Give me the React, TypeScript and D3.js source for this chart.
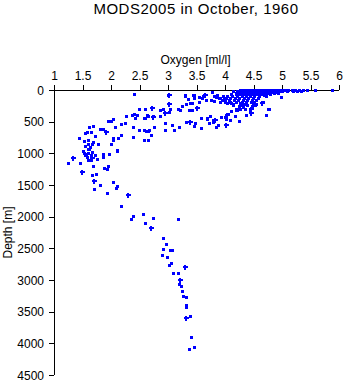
import React from "react";
import * as d3 from "d3";

const title = "MODS2005 in October, 1960";
const xLabel = "Oxygen [ml/l]";
const yLabel = "Depth [m]";
const xTicks = [1, 1.5, 2, 2.5, 3, 3.5, 4, 4.5, 5, 5.5, 6];
const yTicks = [0, 500, 1000, 1500, 2000, 2500, 3000, 3500, 4000, 4500];

// [oxygen ml/l, depth m] — square markers
const surfaceObs: [number, number][] = [
  [4.28, 5], [4.33, 5], [4.38, 5], [4.42, 5], [4.47, 5], [4.52, 5], [4.57, 5], [4.62, 5], [4.67, 5],
  [4.72, 5], [4.77, 5], [4.82, 5], [4.87, 5], [4.92, 5], [4.97, 5], [5.02, 5], [5.07, 5], [5.12, 5],
  [5.18, 8], [5.24, 8], [5.31, 12], [5.38, 10], [5.45, 8], [5.58, 5], [5.88, 5],
  [4.22, 25], [4.3, 25], [4.36, 25], [4.44, 25], [4.5, 25], [4.56, 25], [4.63, 25], [4.7, 25], [4.76, 25],
  [4.83, 25], [4.9, 25], [4.95, 25], [5.0, 25], [5.1, 22], [5.2, 22], [5.28, 20], [5.35, 20], [4.15, 16],
  [4.25, 40], [4.33, 38], [4.41, 40], [4.49, 38], [4.57, 40], [4.66, 38], [4.74, 40], [4.82, 38], [4.9, 40],
  [4.2, 50], [4.27, 50], [4.34, 50], [4.4, 50], [4.46, 50], [4.52, 50], [4.58, 50], [4.64, 50], [4.7, 50],
  [4.78, 50], [4.86, 50], [4.94, 55],
  [4.24, 62], [4.32, 64], [4.4, 62], [4.5, 64], [4.6, 62], [4.68, 64], [4.75, 62],
  [4.12, 75], [4.2, 75], [4.28, 75], [4.35, 75], [4.42, 75], [4.48, 75], [4.55, 75], [4.62, 75], [4.7, 80], [4.8, 78],
  [3.98, 100], [4.05, 100], [4.14, 100], [4.22, 100], [4.3, 100], [4.38, 100], [4.45, 100], [4.52, 100], [4.6, 105], [4.72, 100],
  [3.92, 130], [4.02, 130], [4.1, 130], [4.18, 130], [4.26, 130], [4.34, 130], [4.42, 130], [4.5, 130], [4.58, 135],
  [4.0, 160], [4.08, 160], [4.16, 160], [4.24, 160], [4.32, 160], [4.4, 160], [4.48, 160], [4.55, 165],
  [4.1, 190], [4.2, 190], [4.3, 190], [4.38, 190], [4.46, 195], [4.52, 190],
  [4.12, 220], [4.28, 220], [4.36, 225], [4.5, 220], [4.3, 250], [4.4, 250], [4.48, 255],
  [4.99, 116], [4.67, 200], [4.56, 226], [4.53, 237], [4.78, 300], [4.76, 305], [4.73, 405],
];

const thermoclineObs: [number, number][] = [
  [3.3, 100], [3.36, 147], [3.46, 84], [3.47, 132], [3.56, 195], [3.43, 211], [3.68, 163], [3.77, 163],
  [3.85, 121], [3.78, 32], [3.82, 100], [3.82, 180], [3.9, 140], [3.95, 160], [3.99, 150], [4.0, 200],
  [4.04, 220], [3.92, 205], [4.15, 226], [4.15, 237], [3.55, 120], [3.6, 140], [3.62, 100], [3.4, 210], [3.33, 230],
  [3.0, 80], [3.3, 80], [3.44, 80], [3.86, 80],
  [2.6, 300], [2.86, 316], [2.92, 300], [3.05, 305], [3.26, 268], [3.18, 300], [3.22, 316], [3.37, 316],
  [3.43, 316], [3.02, 358], [2.64, 410], [2.58, 447], [2.86, 421], [2.96, 526], [3.08, 553], [3.21, 595],
  [3.33, 521], [3.49, 532], [3.47, 584], [3.58, 605], [3.58, 447], [3.69, 447], [3.72, 526], [3.8, 516],
  [3.88, 553], [3.85, 595], [2.77, 595], [2.63, 658], [2.68, 647], [2.95, 647], [3.11, 647],
  [4.0, 437], [4.09, 474], [4.18, 421], [4.22, 316], [4.12, 332], [4.25, 500], [4.2, 300], [4.28, 300],
  [4.36, 300], [4.44, 300], [4.25, 280], [4.32, 270], [4.44, 332], [4.26, 263], [4.2, 316], [4.06, 384],
  [3.93, 440], [3.75, 420], [3.7, 460], [3.8, 480], [4.03, 463], [4.26, 490], [4.37, 410],
];

const intermediateObs: [number, number][] = [
  [2.41, 74], [2.41, 384], [2.43, 447], [2.38, 400], [2.46, 410], [2.5, 311], [2.6, 305], [2.65, 416],
  [2.74, 416], [2.6, 447], [2.27, 416], [2.25, 526], [2.19, 542], [2.05, 463], [2.0, 500], [1.95, 500],
  [2.08, 590], [2.39, 590], [2.5, 632], [2.58, 642], [2.65, 658], [2.71, 711], [2.58, 790], [2.66, 805],
  [2.39, 753], [2.18, 711], [2.13, 763], [2.04, 763], [2.04, 800], [2.0, 868], [2.11, 963], [1.86, 621],
  [1.82, 621], [1.7, 579], [1.63, 595], [1.58, 674], [1.56, 684], [1.65, 674], [1.72, 737], [1.44, 763],
  [1.53, 816], [1.61, 805], [1.7, 826], [1.78, 858], [1.61, 868], [1.56, 895], [1.64, 911], [1.6, 947],
  [1.51, 974], [1.61, 1000], [1.65, 1042], [1.57, 1037], [1.73, 1037], [1.76, 1105], [1.86, 1016],
  [1.86, 1063], [1.98, 1016], [1.61, 1121], [1.66, 1121], [1.62, 940], [1.67, 980], [1.58, 1060], [1.68, 855],
  [2.11, 968], [1.25, 1158], [1.47, 1158], [1.69, 1200], [1.74, 1331], [1.67, 1353], [1.88, 1237],
  [1.94, 1253], [1.95, 1205], [1.81, 1511], [1.71, 1568], [2.04, 1458], [2.12, 1521], [2.09, 1558], [1.94, 1632],
];

const deepObs: [number, number][] = [
  [2.18, 1847], [2.39, 2005], [2.36, 2042], [2.57, 1963], [2.75, 2026], [3.18, 2042], [2.6, 2105],
  [2.92, 2342], [2.98, 2447], [2.92, 2511], [3.08, 2532], [3.04, 2537], [2.9, 2611], [2.99, 2642],
  [3.06, 2732], [3.02, 2769], [3.09, 2894], [3.18, 2900], [3.21, 3074], [3.23, 3100], [3.25, 3179],
  [3.27, 3253], [3.32, 3280], [3.32, 3400], [3.32, 3437], [3.39, 3574], [3.41, 3900], [3.46, 4069], [3.37, 4100],
];

// plus-sign markers
const crossObs: [number, number][] = [
  [3.01, 84], [3.65, 84], [3.01, 226], [3.51, 279], [2.95, 358], [2.74, 426], [3.39, 511], [3.82, 474],
  [4.02, 553], [4.03, 395], [4.65, 211], [4.46, 300], [4.46, 368], [2.72, 290], [1.91, 658], [1.55, 1010],
  [1.66, 1070], [1.33, 1079], [1.49, 1300], [1.71, 1437], [2.29, 1658], [2.71, 2184], [3.3, 2800],
  [3.32, 3606], [3.21, 3005],
];

const W = 345;
const H = 384;
const FONT = "'Liberation Sans', Arial, Helvetica, sans-serif";
const BLUE = "#0000ff";

export default function App() {
  const x = d3.scaleLinear().domain([1, 6]).range([54, 339]);
  const y = d3.scaleLinear().domain([0, 4500]).range([90, 375]);
  const squares = [...surfaceObs, ...thermoclineObs, ...intermediateObs, ...deepObs];

  return (
    <svg
      width={W}
      height={H}
      style={{ position: "absolute", left: 0, top: 0, background: "#fff" }}
      fontFamily={FONT}
    >
      <rect x={0} y={0} width={W} height={H} fill="#fff" />
      <text x={196} y={14} textAnchor="middle" fontSize={15} letterSpacing={0.5} fill="#000">
        {title}
      </text>
      <text x={x(3.5) - 1} y={64} textAnchor="middle" fontSize={12} fill="#000">
        {xLabel}
      </text>
      <text
        transform={`translate(12,${(y(0) + y(4500)) / 2}) rotate(-90)`}
        textAnchor="middle"
        fontSize={12}
        fill="#000"
      >
        {yLabel}
      </text>

      <g shapeRendering="crispEdges">
        <line x1={x(1)} x2={x(6)} y1={y(0) + 0.5} y2={y(0) + 0.5} stroke="#000" />
        <line x1={x(1) + 0.5} x2={x(1) + 0.5} y1={y(0)} y2={y(4500)} stroke="#000" />
        {xTicks.map((t) => (
          <g key={"xt" + t}>
            <line x1={x(t) + 0.5} x2={x(t) + 0.5} y1={y(0) - 5} y2={y(0)} stroke="#000" />
            <text x={x(t) + 0.5} y={80} textAnchor="middle" fontSize={12} fill="#000">
              {String(t)}
            </text>
          </g>
        ))}
        {yTicks.map((t) => (
          <g key={"yt" + t}>
            <line x1={x(1) - 5} x2={x(1)} y1={y(t) + 0.5} y2={y(t) + 0.5} stroke="#000" />
            <text x={44} y={y(t) + 4.5} textAnchor="end" fontSize={12} fill="#000">
              {String(t)}
            </text>
          </g>
        ))}
      </g>

      <g fill={BLUE} shapeRendering="crispEdges">
        {squares.map(([o, d], i) => (
          <rect key={"s" + i} x={Math.round(x(o) - 1.5)} y={Math.round(y(d) - 1.5)} width={3} height={3} />
        ))}
        {crossObs.map(([o, d], i) => {
          const cx = Math.round(x(o));
          const cy = Math.round(y(d));
          return (
            <g key={"c" + i}>
              <rect x={cx - 2} y={cy - 1} width={5} height={2} />
              <rect x={cx - 1} y={cy - 2} width={2} height={5} />
            </g>
          );
        })}
      </g>
    </svg>
  );
}
